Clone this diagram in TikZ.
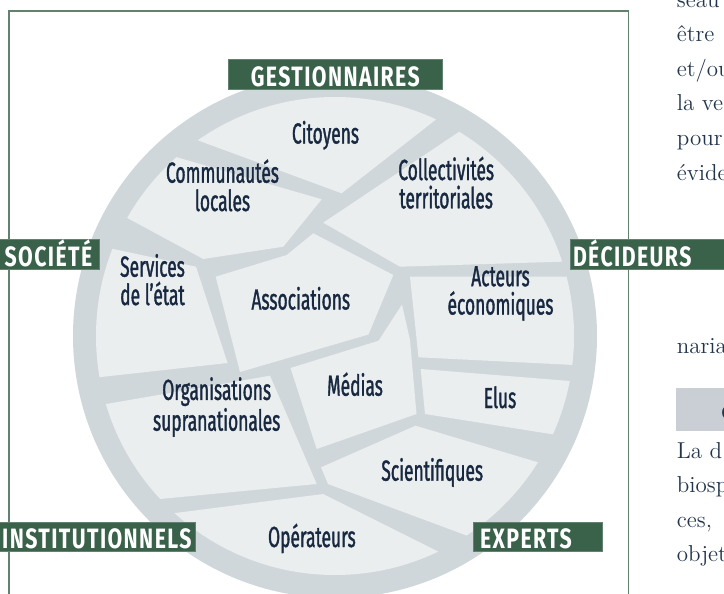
\documentclass[tikz,border=0pt]{standalone}
\usepackage{fontspec}
\usepackage{tikz}
\newfontfamily\patchfont{Fira Sans}[FakeStretch=0.6, FakeBold=1.2]
\newfontfamily\tagfont{Fira Sans}[FakeStretch=0.76, LetterSpace=5]
\definecolor{tagGreen}{HTML}{3A614A}
\definecolor{frameGreen}{HTML}{62826F}
\definecolor{ringGray}{HTML}{D0D7DB}
\definecolor{patchGray}{HTML}{EAEEEE}
\definecolor{inkNavy}{HTML}{172840}
\definecolor{barGray}{HTML}{C9CFD5}
\definecolor{bodyInk}{HTML}{22354D}
\tikzset{ring/.style={fill=ringGray}}
\tikzset{patch/.style={fill=patchGray}}
\tikzset{frameline/.style={draw=frameGreen, line width=0.65pt}}
\tikzset{lbl/.style={font=\patchfont\fontsize{14.5}{14.15}\selectfont, text=inkNavy, align=center, inner sep=0pt, anchor=base}}
\tikzset{tag/.style={fill=tagGreen, draw=frameGreen, line width=0.4pt, text=white, font=\tagfont\bfseries\fontsize{14}{14}\selectfont, text height=11.7pt, text depth=0pt, inner ysep=1.5pt}}
\tikzset{bodytxt/.style={font=\fontsize{11.5}{13}\selectfont, text=bodyInk, anchor=base west, inner sep=0pt}}

\begin{document}
\begin{tikzpicture}[x=0.5pt, y=-0.5pt]
    \useasboundingbox (0,0) rectangle (724,594);
    % page frame
    \draw[frameline] (9,640) -- (9,11) -- (628.5,11) -- (628.5,640);

    \coordinate (hub) at (335,336);
    \fill[ring] (hub) circle[radius=262];
    \begin{scope}
        \clip (hub) circle[radius=239];
        \fill[patch] (341.6,193.3) -- (140,119) -- (200,30) -- (335,0) -- (484,82) -- cycle;
        \fill[patch] (323.2,222.7) -- (513.7,95.3) -- (640,180) -- (625.4,259.7) -- (400,266.7) -- cycle;
        \fill[patch] (321.7,199.3) -- (283.3,246.7) -- (203.3,259) -- (48.7,175.6) -- (117.7,140.1) -- cycle;
        \fill[patch] (196,266.7) -- (227.6,363) -- (20.7,385.9) -- (24,229.9) -- cycle;
        \fill[patch] (215.7,276.7) -- (286.7,255) -- (313.3,233.3) -- (393.3,275) -- (368.5,334.5) -- (240,372) -- cycle;
        \fill[patch] (410,276.7) -- (640,276.7) -- (645,368.5) -- (418.5,357.3) -- cycle;
        \fill[patch] (420.7,369) -- (637.2,386.4) -- (676.4,454) -- (425,414) -- cycle;
        \fill[patch] (402,304.5) -- (410,340) -- (416.5,414) -- (316.7,449) -- (290.5,368) -- (378.6,340.7) -- cycle;
        \fill[patch] (270,375.7) -- (316.7,484) -- (81.7,506.5) -- (24,418.2) -- cycle;
        \fill[patch] (321,467.3) -- (415.5,425.7) -- (609.9,483.8) -- (529.8,559) -- (328,484) -- cycle;
        \fill[patch] (323.2,494) -- (492.9,579) -- (335,680) -- (101.5,522.5) -- cycle;
    \end{scope}

    \node[lbl] (citoyens) at (325.5,143.5) {Citoyens};
    \node[lbl] (communautes) at (222.5,211) {Communautés\\locales};
    \node[lbl] (collectivites) at (446.2,208.3) {Collectivités\\territoriales};
    \node[lbl] (services) at (152.5,305) {Services\\de l’état};
    \node[lbl] (associations) at (300.8,309.5) {Associations};
    \node[lbl] (acteurs) at (500.5,314.5) {Acteurs\\économiques};
    \node[lbl] (medias) at (355,395.7) {Médias};
    \node[lbl] (elus) at (500,408) {Elus};
    \node[lbl] (organisations) at (216.7,430.7) {Organisations\\supranationales};
    \node[lbl] (scientifiques) at (432.2,480.7) {Scientifiques};
    \node[lbl] (operateurs) at (311.9,547) {Opérateurs};

    \node[tag, minimum width=106.75pt, align=center] (gest) at (335.25,74.5) {GESTIONNAIRES};
    \node[tag, inner xsep=3.5pt, text width=52.65pt, align=right] (societe) at (39.65,254.3) {SOCIÉTÉ};
    \node[tag, inner xsep=1.5pt, text width=84pt, align=left] (decideurs) at (657,254.5) {DÉCIDEURS};
    \node[tag, inner xsep=1.85pt, text width=103.95pt, align=right] (institutionnels) at (87.65,536.75) {INSTITUTIONNELS};
    \node[tag, inner xsep=3.5pt, text width=57.75pt, align=left] (experts) at (537.75,537) {EXPERTS};

    % running text of the page, cut by the picture edge
    \fill[barGray] (675.7,388.3) rectangle (740,430.7);
    \node[bodytxt] (t1) at (676.5,7) {seau};
    \node[bodytxt] (t2) at (676.5,41.6) {être};
    \node[bodytxt] (t3) at (676.5,76.2) {et/ou};
    \node[bodytxt] (t4) at (676.5,110.8) {la ve};
    \node[bodytxt] (t5) at (676.5,145.4) {pour};
    \node[bodytxt] (t6) at (676.5,180) {évide};
    \node[bodytxt] (t7) at (676.5,353) {naria};
    \node[bodytxt, font=\bfseries\fontsize{11}{13}\selectfont] (head) at (720.5,420) {C};
    \node[bodytxt] (t8) at (676.5,458.5) {La d};
    \node[bodytxt] (t9) at (676.5,492.8) {biosp};
    \node[bodytxt] (t10) at (676.5,527) {ces,};
    \node[bodytxt] (t11) at (676.5,561.5) {objet};
\end{tikzpicture}
\end{document}
